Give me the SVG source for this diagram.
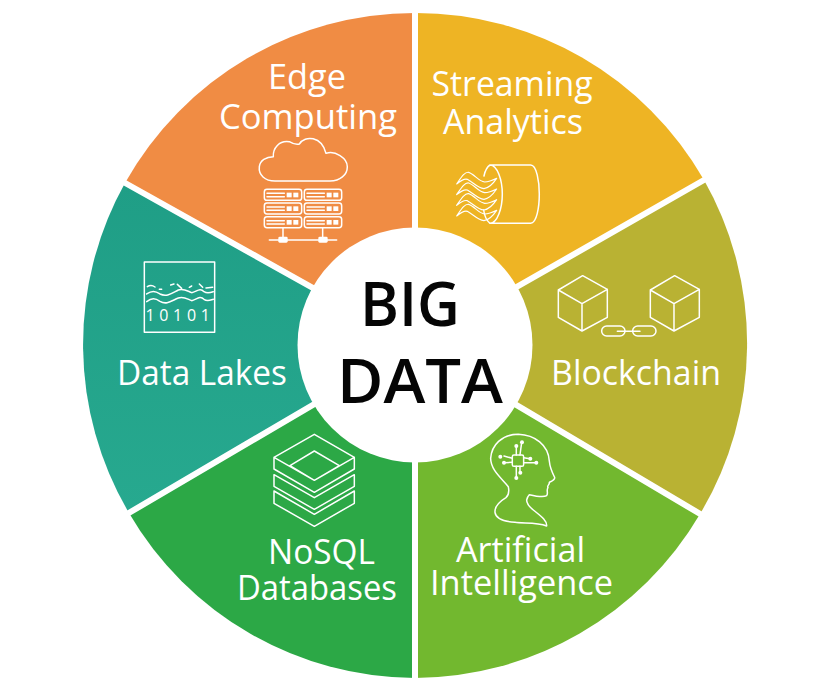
<svg xmlns="http://www.w3.org/2000/svg" xmlns:xlink="http://www.w3.org/1999/xlink" width="830" height="690" viewBox="0 0 830 690">
<style>
.t{font-family:"Open Sans","Noto Sans","Liberation Sans",sans-serif;font-size:34px;fill:#fff;text-anchor:middle}
.c{font-family:"Open Sans","Noto Sans","Liberation Sans",sans-serif;font-size:62px;font-weight:600;fill:#050505;text-anchor:middle}
.i{fill:none;stroke:#fff;stroke-width:4.500;stroke-linejoin:round;stroke-linecap:round}
.f{fill:#fff;stroke:none}
</style>
<defs>
<linearGradient id="lake" x1="0" y1="0" x2="0" y2="1"><stop offset="0" stop-color="#1f9e86"/><stop offset="1" stop-color="#27a98f"/></linearGradient>
<g id="srv"><rect class="i" x="0" y="0" width="112" height="33" rx="8"/><path class="i" d="M8 12H60M8 22H60" stroke-width="3"/><rect class="f" x="67" y="10" width="15" height="14"/><rect class="f" x="87" y="10" width="15" height="14"/></g>
<g id="cube"><path class="i" d="M128 32L202 73V157L126 198L55 157V75ZM55 75L126 116L202 73M126 116V198"/></g>
<path id="rib" class="i" style="stroke-width:3.500" d="M650 192C664 172 674 155 686 157C704 163 716 184 734 186C748 186 760 180 770 175C760 190 746 204 732 206C712 204 698 186 682 178C672 175 662 182 650 192Z"/>
</defs>
<rect width="830" height="690" fill="#fff"/>
<g id="edge-computing">
<path d="M415 345V13A332 332 0 0 0 125 183Z" fill="#f08c44"/>
<text class="t" x="307" y="89" textLength="78" lengthAdjust="spacingAndGlyphs">Edge</text><text class="t" x="308" y="129" textLength="178" lengthAdjust="spacingAndGlyphs">Computing</text>
<g transform="translate(240 120) scale(.3333)">
<path class="i" d="M100 110C98 85 118 60 148 65C160 72 170 75 178 72C195 45 245 48 258 100C285 90 322 115 322 140C322 165 300 183 270 183H105C75 183 55 165 58 140C60 122 78 110 100 110Z"/>
<use xlink:href="#srv" x="73" y="208"/><use xlink:href="#srv" x="193" y="208"/><use xlink:href="#srv" x="73" y="249"/><use xlink:href="#srv" x="193" y="249"/><use xlink:href="#srv" x="73" y="290"/><use xlink:href="#srv" x="193" y="290"/>
<path class="i" d="M129 323V358M248 323V358M88 360H290"/>
<rect class="f" x="115" y="350" width="28" height="18" rx="4"/><rect class="f" x="235" y="350" width="28" height="18" rx="4"/>
</g>
</g>
<g id="streaming-analytics">
<path d="M415 345V13A332 332 0 0 1 704 180Z" fill="#eeb424"/>
<text class="t" x="512" y="96" textLength="161" lengthAdjust="spacingAndGlyphs">Streaming</text><text class="t" x="513" y="134" textLength="140" lengthAdjust="spacingAndGlyphs">Analytics</text>
<g transform="translate(240 120) scale(.3333)">
<path class="i" d="M750 135H872C890 135 898 185 898 222C898 262 890 310 872 310H750M750 135C772 135 787 180 787 222C787 265 772 310 750 310C738 300 733 285 731 270M750 135C742 140 736 150 732 168"/>
<use xlink:href="#rib"/><use xlink:href="#rib" y="32"/><use xlink:href="#rib" y="64"/><use xlink:href="#rib" y="96"/>
</g>
</g>
<g id="blockchain">
<path d="M415 345L704 180A332 332 0 0 1 700 514Z" fill="#b9b233"/>
<text class="t" x="636" y="385" textLength="170" lengthAdjust="spacingAndGlyphs">Blockchain</text>
<g transform="translate(540 265) scale(.3333)">
<use xlink:href="#cube"/><use xlink:href="#cube" x="276"/>
<rect class="i" x="185" y="183" width="70" height="30" rx="15"/><rect class="i" x="278" y="183" width="70" height="30" rx="15"/>
<path class="i" d="M232 199H300"/>
</g>
</g>
<g id="artificial-intelligence">
<path d="M415 345V678A332 332 0 0 0 700 514Z" fill="#72b82f"/>
<text class="t" x="520.500" y="562" textLength="129" lengthAdjust="spacingAndGlyphs">Artificial</text><text class="t" x="521.500" y="595" textLength="183" lengthAdjust="spacingAndGlyphs">Intelligence</text>
<g transform="translate(260 425) scale(.3333)">
<path class="i" d="M808 209C825 213 850 218 860 212C866 204 858 196 864 188C860 182 870 178 868 172C876 168 886 165 884 157C878 145 870 130 868 108C865 60 825 30 775 28C725 28 695 60 692 100C692 135 725 160 745 185C748 200 745 212 738 218C718 230 704 245 705 262C708 282 735 290 765 292C790 296 830 290 860 303C862 285 838 270 820 255C810 247 800 235 800 225C802 216 805 212 808 209Z"/>
<rect class="i" x="757" y="90" width="34" height="34" rx="5"/>
<path class="i" stroke-width="3" d="M769 90V64M780 90L785 53M757 100L732 93M757 112L733 113M791 113H828M791 98L810 101M769 124V158M780 124V143"/>
<circle class="f" cx="769" cy="63" r="6"/><circle class="f" cx="786" cy="52" r="6"/><circle class="f" cx="721" cy="95" r="6"/><circle class="f" cx="732" cy="113" r="6"/><circle class="f" cx="829" cy="113" r="6"/><circle class="f" cx="811" cy="101" r="6"/><circle class="f" cx="769" cy="159" r="6"/><circle class="f" cx="781" cy="143" r="6"/>
</g>
</g>
<g id="nosql-databases">
<path d="M415 345V678A332 332 0 0 1 129 513Z" fill="#2ca846"/>
<text class="t" x="321.500" y="564" textLength="107" lengthAdjust="spacingAndGlyphs">NoSQL</text><text class="t" x="317" y="600" textLength="160" lengthAdjust="spacingAndGlyphs">Databases</text>
<g transform="translate(260 425) scale(.3333)">
<path class="i" stroke-width="4" d="M42 97L163 28L283 97V132L163 202L42 132ZM42 97L163 166L283 97M90 122L163 78L238 122L163 166Z"/>
<path class="i" stroke-width="4" d="M42 149V184L163 253L283 184V149L163 218Z"/>
<path class="i" stroke-width="4" d="M42 198V235L163 304L283 235V198L163 268Z"/>
</g>
</g>
<g id="data-lakes">
<path d="M415 345L125 183A332 332 0 0 0 129 513Z" fill="url(#lake)"/>
<text class="t" x="202" y="385" textLength="170" lengthAdjust="spacingAndGlyphs">Data Lakes</text>
<g transform="translate(130 250) scale(.3333)">
<rect class="i" x="43" y="36" width="211" height="211" stroke-width="6" stroke-linejoin="miter"/>
<path class="i" d="M50 132C65 122 75 122 90 132C110 142 125 130 145 120C160 115 170 122 185 128C200 125 210 112 222 125C232 132 242 128 250 125"/>
<path class="i" d="M50 155C65 144 75 144 90 154C110 166 125 152 145 144C160 138 170 146 185 152C200 148 210 136 222 148C232 156 242 150 250 148"/>
<path class="i" stroke-width="3" d="M52 110C60 105 68 106 75 111M88 118H95M122 105L132 102M142 103L155 115M178 112L185 108M208 102L218 112M228 114L248 112"/>
<text x="150" y="214" text-anchor="middle" font-family="Open Sans,sans-serif" font-size="48" letter-spacing="14" fill="#fff">10101</text>
</g>
</g>
<g id="connectors" stroke="#fff" stroke-width="6" fill="none">
<path d="M415 345V5M415 345V686M415 345L118 179M415 345L711 176M415 345L707 518M415 345L122 517"/>
</g>
<g id="big-data">
<circle cx="415" cy="345" r="117.500" fill="#fff"/>
<text class="c" x="410" y="326" textLength="100" lengthAdjust="spacingAndGlyphs">BIG</text><text class="c" x="420" y="403" textLength="166" lengthAdjust="spacingAndGlyphs">DATA</text>
</g>
</svg>
